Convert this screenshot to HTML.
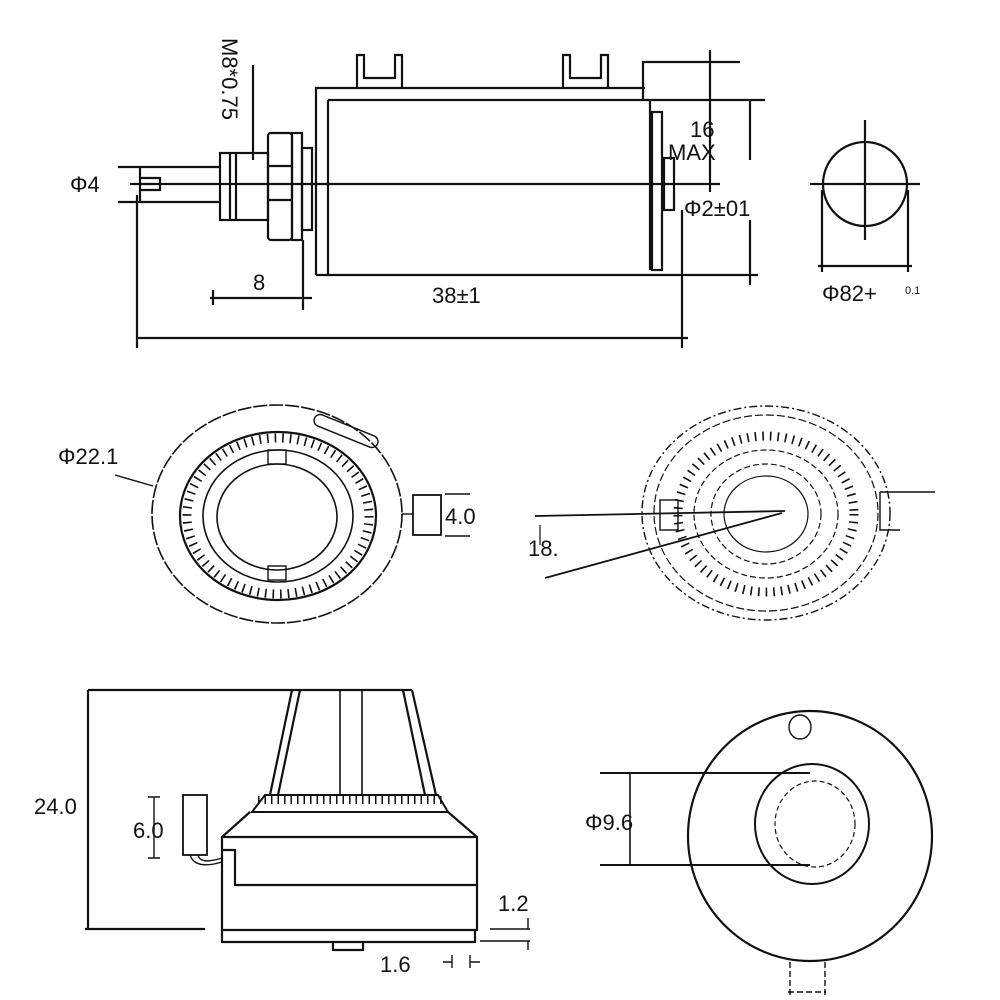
<!DOCTYPE html>
<html><head><meta charset="utf-8"><style>
html,body{margin:0;padding:0;background:#fff}
svg{display:block}
text{font-family:"Liberation Sans",sans-serif;fill:#111}
</style></head><body>
<svg width="1000" height="1000" viewBox="0 0 1000 1000" xmlns="http://www.w3.org/2000/svg">
<g fill="none" stroke="#111" stroke-width="2.2">
<!-- TOP VIEW -->
<path d="M316 275 V88 H645"/>
<line x1="328" y1="100" x2="328" y2="275"/>
<line x1="316" y1="275" x2="655" y2="275"/>
<line x1="328" y1="100" x2="765" y2="100"/>
<path d="M643 100 V62 H740"/>
<line x1="650" y1="100" x2="650" y2="270"/>
<rect x="652" y="112" width="10" height="158"/>
<rect x="664" y="158" width="10" height="52"/>
<path d="M357 88 V55 H364 V78 H395 V55 H402 V88"/>
<path d="M563 88 V55 H570 V78 H601 V55 H608 V88"/>
<line x1="118" y1="167" x2="220" y2="167"/>
<line x1="118" y1="202" x2="220" y2="202"/>
<path d="M140 167 V202 M140 178 H160 V190 H140"/>
<line x1="130" y1="184" x2="720" y2="184"/>
<rect x="220" y="153" width="48" height="67"/>
<line x1="230" y1="153" x2="230" y2="220"/>
<line x1="236" y1="153" x2="236" y2="220"/>
<rect x="268" y="133" width="24" height="107" rx="3"/>
<line x1="268" y1="166" x2="292" y2="166"/>
<line x1="268" y1="200" x2="292" y2="200"/>
<rect x="292" y="133" width="10" height="107"/>
<rect x="302" y="148" width="10" height="82"/>
<line x1="253" y1="65" x2="253" y2="160"/>
<line x1="710" y1="50" x2="710" y2="192"/>
<line x1="750" y1="100" x2="750" y2="160"/>
<line x1="750" y1="220" x2="750" y2="285"/>
<line x1="655" y1="275" x2="758" y2="275"/>
<line x1="137" y1="195" x2="137" y2="348"/>
<line x1="682" y1="210" x2="682" y2="348"/>
<line x1="137" y1="338" x2="688" y2="338"/>
<line x1="213" y1="290" x2="213" y2="305"/>
<line x1="303" y1="240" x2="303" y2="310"/>
<line x1="210" y1="298" x2="312" y2="298"/>
<circle cx="865" cy="184" r="42"/>
<line x1="810" y1="184" x2="920" y2="184"/>
<line x1="865" y1="120" x2="865" y2="240"/>
<line x1="822" y1="190" x2="822" y2="272"/>
<line x1="908" y1="190" x2="908" y2="272"/>
<line x1="818" y1="266" x2="912" y2="266"/>

<!-- LEFT DIAL -->
<ellipse cx="277" cy="514" rx="125" ry="109" stroke-width="1.6" stroke-dasharray="14 2"/>
<ellipse cx="278" cy="516" rx="98" ry="84"/>
<ellipse cx="278" cy="516" rx="91" ry="78" stroke-width="9" stroke-dasharray="1.6 6"/>
<ellipse cx="278" cy="516" rx="75" ry="66" stroke-width="1.6"/>
<ellipse cx="277" cy="517" rx="60" ry="53" stroke-width="1.6"/>
<rect x="268" y="450" width="18" height="14" stroke-width="1.4"/>
<rect x="268" y="566" width="18" height="14" stroke-width="1.4"/>
<rect x="312" y="425" width="68" height="12" rx="6" stroke-width="1.4" transform="rotate(22 346 431)"/>
<rect x="413" y="495" width="28" height="40" stroke-width="1.8"/>
<line x1="402" y1="514" x2="413" y2="514" stroke-width="1.4"/>
<line x1="445" y1="494" x2="470" y2="494" stroke-width="1.4"/>
<line x1="445" y1="536" x2="470" y2="536" stroke-width="1.4"/>
<line x1="115" y1="475" x2="153" y2="486" stroke-width="1.4"/>

<!-- RIGHT DIAL -->
<ellipse cx="766" cy="513" rx="124" ry="107" stroke-width="1.4" stroke-dasharray="8 3 2 3"/>
<ellipse cx="766" cy="513" rx="112" ry="98" stroke-width="1.2" stroke-dasharray="8 3"/>
<ellipse cx="766" cy="514" rx="88" ry="78" stroke-width="9" stroke-dasharray="1.6 6"/>
<ellipse cx="766" cy="514" rx="72" ry="64" stroke-width="1.2" stroke-dasharray="6 3"/>
<ellipse cx="766" cy="514" rx="55" ry="50" stroke-width="1.2" stroke-dasharray="6 3"/>
<ellipse cx="766" cy="514" rx="42" ry="38" stroke-width="1.2"/>
<rect x="660" y="500" width="18" height="30" stroke-width="1.4"/>
<line x1="535" y1="516" x2="785" y2="511" stroke-width="1.8"/>
<line x1="545" y1="578" x2="782" y2="513" stroke-width="1.8"/>
<line x1="540" y1="525" x2="540" y2="545" stroke-width="1.2"/>
<path d="M880 492 H935 M880 492 V530 H900" stroke-width="1.4"/>

<!-- BOTTOM LEFT SIDE VIEW -->
<line x1="88" y1="690" x2="412" y2="690"/>
<line x1="88" y1="690" x2="88" y2="929"/>
<line x1="85" y1="929" x2="205" y2="929"/>
<path d="M292 690 L270 795 M300 690 L278 795 M403 690 L425 795 M412 690 L436 795"/>
<line x1="340" y1="690" x2="340" y2="795" stroke-width="1.6"/>
<line x1="362" y1="690" x2="362" y2="795" stroke-width="1.6"/>
<path d="M265 795 H438 L448 812 H252 Z" stroke-width="2"/>
<line x1="258" y1="800" x2="443" y2="800" stroke-width="8" stroke-dasharray="1.5 5"/>
<path d="M250 812 L222 837 V930 H477 V837 L448 812"/>
<line x1="222" y1="837" x2="477" y2="837"/>
<path d="M222 850 H235 V885 H477"/>
<path d="M222 930 V942 H475 V930"/>
<path d="M333 942 V950 H363 V942"/>
<rect x="183" y="795" width="24" height="60" stroke-width="1.8"/>
<path d="M190 855 Q195 870 222 862 M198 855 Q200 865 222 858" stroke-width="1.4"/>
<path d="M148 797 H160 M154 797 V858 M148 858 H160" stroke-width="1.4"/>
<line x1="490" y1="929" x2="530" y2="929" stroke-width="1.4"/>
<line x1="480" y1="941" x2="530" y2="941" stroke-width="1.4"/>
<line x1="528" y1="918" x2="528" y2="929" stroke-width="1.4"/>
<line x1="528" y1="941" x2="528" y2="950" stroke-width="1.4"/>
<path d="M452 955 V968 M470 955 V968 M443 962 H452 M470 962 H480" stroke-width="1.4"/>

<!-- BOTTOM RIGHT -->
<ellipse cx="810" cy="836" rx="122" ry="125"/>
<ellipse cx="800" cy="727" rx="11" ry="12" stroke-width="1.4"/>
<ellipse cx="812" cy="824" rx="57" ry="60" stroke-width="2"/>
<ellipse cx="815" cy="824" rx="40" ry="43" stroke-width="1.2" stroke-dasharray="5 3"/>
<line x1="600" y1="773" x2="810" y2="773" stroke-width="2"/>
<line x1="600" y1="865" x2="810" y2="865" stroke-width="2"/>
<line x1="630" y1="773" x2="630" y2="865" stroke-width="1.6"/>
<path d="M790 962 V995 M825 962 V995 M788 992 H826" stroke-width="1.4" stroke-dasharray="6 3"/>
</g>
<g font-size="22">
<text x="70" y="192">Φ4</text>
<text x="0" y="0" transform="translate(222,38) rotate(90)">M8*0.75</text>
<text x="253" y="290">8</text>
<text x="432" y="303">38±1</text>
<text x="690" y="137">16</text>
<text x="668" y="160">MAX</text>
<text x="684" y="216">Φ2±01</text>
<text x="822" y="301">Φ82+</text>
<text x="905" y="294" font-size="11">0.1</text>
<text x="58" y="464">Φ22.1</text>
<text x="445" y="524">4.0</text>
<text x="528" y="556">18.</text>
<text x="34" y="814">24.0</text>
<text x="133" y="838">6.0</text>
<text x="498" y="911">1.2</text>
<text x="380" y="972">1.6</text>
<text x="585" y="830">Φ9.6</text>
</g>
</svg>
</body></html>
